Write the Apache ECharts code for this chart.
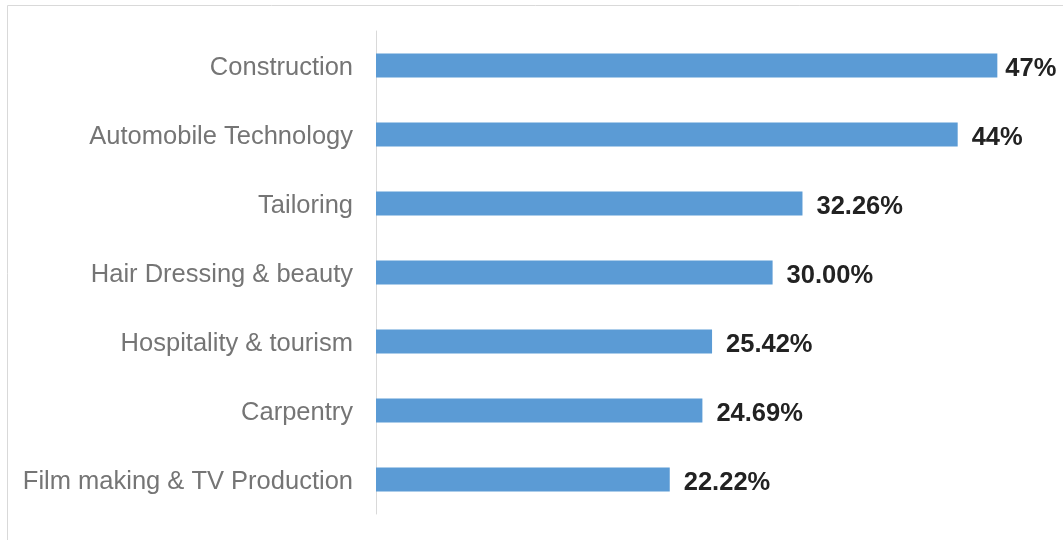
<!DOCTYPE html>
<html>
<head>
<meta charset="utf-8">
<script src="https://cdn.jsdelivr.net/npm/echarts@6/dist/echarts.min.js"></script>
<style>
  html, body { margin: 0; padding: 0; background: #fff; }
  #chart { width: 1063px; height: 540px; }
</style>
</head>
<body>
<div id="chart"></div>
<script>
var categories = ['Construction', 'Automobile Technology', 'Tailoring', 'Hair Dressing & beauty',
  'Hospitality & tourism', 'Carpentry', 'Film making & TV Production'];
var values = [47, 44, 32.26, 30.00, 25.42, 24.69, 22.22];
var valueLabels = ['47%', '44%', '32.26%', '30.00%', '25.42%', '24.69%', '22.22%'];

var myChart = echarts.init(document.getElementById('chart'));

// the longest bar's label sits closer to its bar, like in the original
var barData = values.map(function (v, i) {
  return i === 0 ? { value: v, label: { distance: 8 } } : v;
});

var option = {
  animation: false,
  graphic: [{
    type: 'rect',
    silent: true,
    shape: { x: 7.5, y: 5.5, width: 1100, height: 600 },
    style: { fill: 'none', stroke: '#d9d9d9', lineWidth: 1 }
  }],
  grid: { left: 376, top: 31, width: 661, height: 483 },
  xAxis: {
    type: 'value',
    min: 0,
    max: 50,
    show: false
  },
  yAxis: {
    type: 'category',
    data: categories,
    inverse: true,
    axisLine: { show: true, lineStyle: { color: '#d9d9d9', width: 1 } },
    axisTick: { show: false },
    axisLabel: {
      margin: 23,
      formatter: function (v) { return '{c|' + v + '}'; },
      rich: {
        c: {
          color: '#757575',
          fontSize: 25.5,
          fontFamily: 'Liberation Sans, Arial, sans-serif',
          padding: [5, 0, 0, 0]
        }
      }
    },
    splitLine: { show: false }
  },
  series: [{
    type: 'bar',
    data: barData,
    barWidth: 24,
    itemStyle: { color: '#5b9bd5' },
    label: {
      show: true,
      position: 'right',
      distance: 14,
      offset: [0, 3],
      color: '#222',
      fontSize: 25.5,
      fontWeight: 'bold',
      fontFamily: 'Liberation Sans, Arial, sans-serif',
      formatter: function (p) { return valueLabels[p.dataIndex]; }
    }
  }]
};
myChart.setOption(option);
</script>
</body>
</html>
